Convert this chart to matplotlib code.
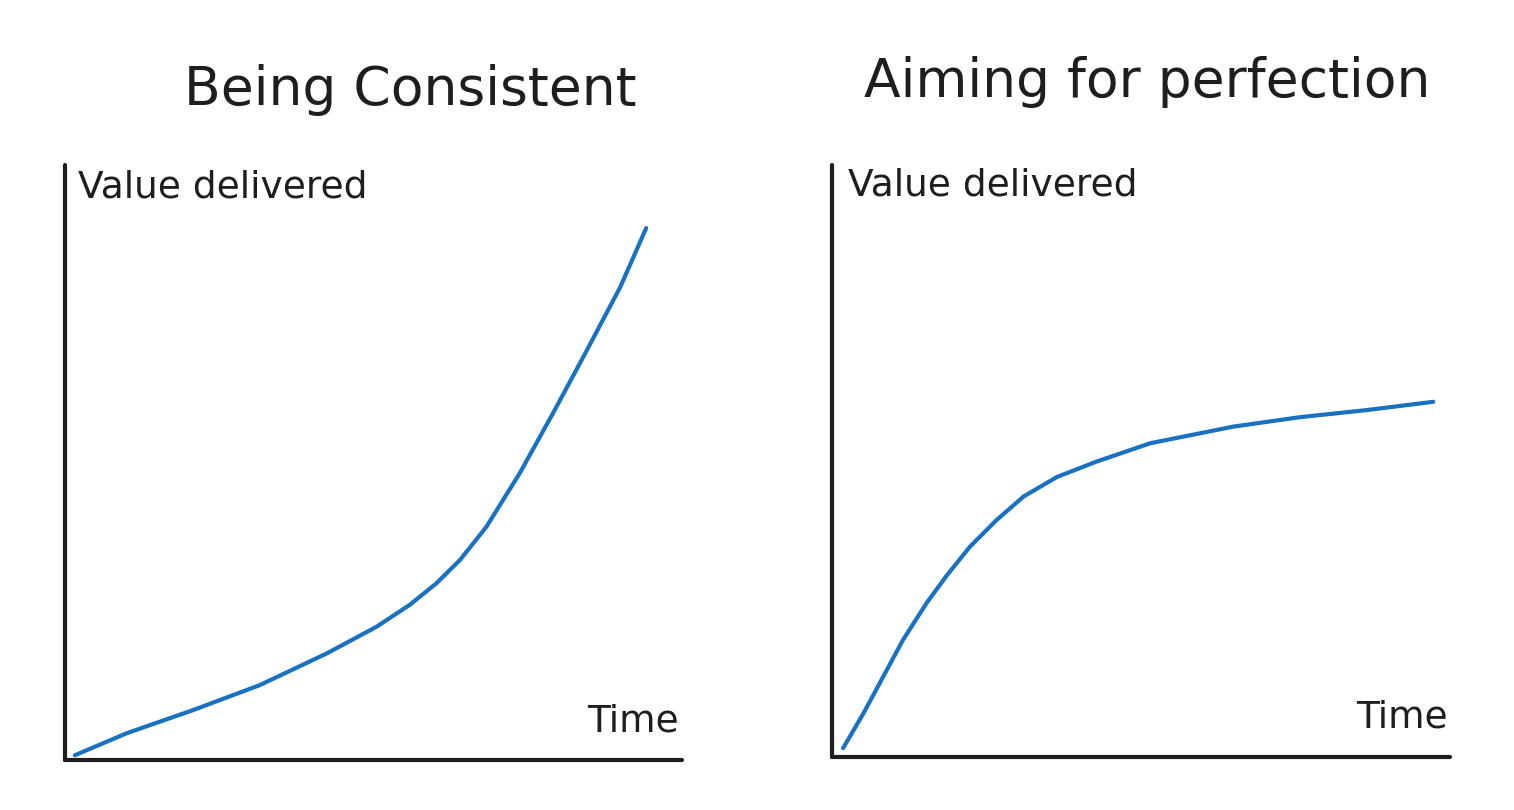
import matplotlib
matplotlib.use('Agg')
import matplotlib.pyplot as plt

plt.rcParams['font.family'] = ['DejaVu Sans']

# x = time (0-100), y = value delivered (0-100)
consistent_x = [1.6, 10.0, 20.8, 31.6, 42.4, 50.5, 55.9, 60.2, 64.0, 68.3, 73.7, 79.1, 84.6, 90.0, 94.2]
consistent_y = [0.8, 4.5, 8.4, 12.6, 17.9, 22.4, 26.1, 29.7, 33.6, 39.2, 48.2, 58.3, 68.9, 79.5, 89.4]

perfection_x = [1.8, 5.1, 8.3, 11.5, 15.3, 18.6, 22.3, 26.6, 31.0, 36.4, 42.8, 51.5, 64.9, 75.7, 86.5, 97.3]
perfection_y = [1.5, 7.4, 13.6, 19.8, 26.0, 30.7, 35.5, 40.0, 44.0, 47.3, 49.9, 53.0, 55.8, 57.4, 58.6, 60.0]

titles = ['Being Consistent', 'Aiming for perfection']
ylabel = 'Value delivered'
xlabel = 'Time'

W, H = 1514, 810
ink = '#1e1e1e'
blue = '#1971c2'

fig = plt.figure(figsize=(W / 100, H / 100), dpi=100)


def px_axes(x0, x1, ytop, ybot):
    return fig.add_axes([x0 / W, 1 - ybot / H, (x1 - x0) / W, (ybot - ytop) / H])


def style(ax):
    ax.set_xlim(0, 100)
    ax.set_ylim(0, 100)
    for s in ['top', 'right']:
        ax.spines[s].set_visible(False)
    for s in ['left', 'bottom']:
        ax.spines[s].set_linewidth(3)
        ax.spines[s].set_color(ink)
        ax.spines[s].set_capstyle('round')
    ax.set_xticks([])
    ax.set_yticks([])


ax1 = px_axes(65, 682, 165, 760)
style(ax1)
ax1.plot(consistent_x, consistent_y, color=blue, lw=3, solid_capstyle='round', solid_joinstyle='round')

ax2 = px_axes(832, 1450, 165, 757)
style(ax2)
ax2.plot(perfection_x, perfection_y, color=blue, lw=3, solid_capstyle='round', solid_joinstyle='round')

fig.text(410 / W, 1 - 90 / H, titles[0], ha='center', va='center', fontsize=38.5, color=ink)
fig.text(1147 / W, 1 - 82 / H, titles[1], ha='center', va='center', fontsize=38.5, color=ink)

fig.text(78 / W, 1 - 188 / H, ylabel, ha='left', va='center', fontsize=27, color=ink)
fig.text(848 / W, 1 - 186 / H, ylabel, ha='left', va='center', fontsize=27, color=ink)

fig.text(679 / W, 1 - 722 / H, xlabel, ha='right', va='center', fontsize=27, color=ink)
fig.text(1448 / W, 1 - 718 / H, xlabel, ha='right', va='center', fontsize=27, color=ink)

plt.savefig('out.png', dpi=100, facecolor='white')
